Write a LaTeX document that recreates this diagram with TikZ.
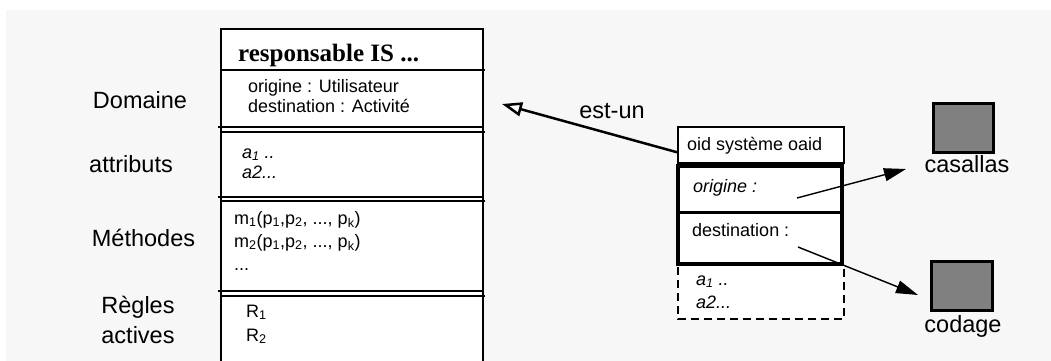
\documentclass[tikz,border=0pt]{standalone}
\usepackage{fontspec}
\setmainfont{Liberation Sans}
\newfontfamily\titlefont{Liberation Serif}
\usetikzlibrary{arrows.meta}
\definecolor{bggray}{RGB}{247,247,247}
\definecolor{boxgray}{RGB}{128,128,128}
\tikzset{
  side/.style={anchor=base, align=center, inner sep=0pt, font=\fontsize{23.5}{30}\selectfont},
  cell/.style={anchor=base west, align=left, inner sep=0pt, font=\fontsize{18}{20}\selectfont},
  thin/.style={line width=1.4pt},
  isa/.style={line width=2.5pt, -{Triangle[open, length=20pt, width=14pt, fill=white]}},
  ref/.style={line width=1.4pt, -{Triangle[length=22pt, width=13pt]}},
  obj/.style={draw, line width=3pt, fill=boxgray, inner sep=0pt}
}
\begin{document}
\begin{tikzpicture}[x=1pt, y=-1pt]
% page and backdrop
\useasboundingbox (0,0) rectangle (1051,361);
\fill[white] (0,0) rectangle (1051,361);
\fill[bggray] (6,10) rectangle (1051,361);

% left column labels (base = last line)
\node[side] (dom) at (140,108) {Domaine};
\node[side] (att) at (131,172) {attributs};
\node[side] (met) at (143.5,246) {Méthodes};
\node[side] (reg) at (138,343) {Règles\\actives};

% the class box
\fill[white] (221,29) rectangle (483,361);
\draw[thin] (221,361) -- (221,29) -- (483,29) -- (483,361);
\draw[thin] (221,70) -- (485,70);
\draw[thin] (218,127) -- (483,127);
\draw[thin] (221,132) -- (485,132);
\draw[thin] (218,197) -- (483,197);
\draw[thin] (221,201) -- (485,201);
\draw[thin] (218,291) -- (483,291);
\draw[thin] (221,296) -- (485,296);
\node[anchor=base west, inner sep=0pt, font=\titlefont\bfseries\fontsize{25}{30}\selectfont] (title) at (238,61) {responsable IS ...};
\node[cell] (domtxt) at (248,112) {origine : Utilisateur\\destination : Activité};
\node[cell] (atttxt) at (242,178) {\textit{a\textsubscript{1} ..}\\\textit{a2...}};
\node[cell, font=\fontsize{18}{23}\selectfont] (mettxt) at (234,270) {m\textsubscript{1}(p\textsubscript{1},p\textsubscript{2}, ..., p\textsubscript{k})\\m\textsubscript{2}(p\textsubscript{1},p\textsubscript{2}, ..., p\textsubscript{k})\\...};
\node[cell, font=\fontsize{18}{24}\selectfont] (regtxt) at (246,341) {R\textsubscript{1}\\R\textsubscript{2}};

% the instance
\fill[white] (678,127) rectangle (844,319);
\draw[thin] (678,127) rectangle (844,163);
\node[cell] (oid) at (687,150) {oid système oaid};
\draw[line width=4pt] (678,166) rectangle (842,264);
\draw[line width=3pt] (678,212) -- (842,212);
\node[cell] (orig) at (693,192) {\textit{origine :}};
\node[cell] (dest) at (692,236) {destination :};
\draw[thin, dash pattern=on 8pt off 5pt] (678,267) -- (678,319) -- (844,319) -- (844,267);
\node[cell, font=\fontsize{18}{23}\selectfont] (inst) at (696,308) {\textit{a\textsubscript{1} ..}\\\textit{a2...}};

% objects
\node[obj, minimum width=60pt, minimum height=49pt] (cas) at (963,127.5) {};
\node[side] (caslbl) at (967,172) {casallas};
\node[obj, minimum width=61pt, minimum height=49pt] (cod) at (961.5,285.5) {};
\node[side] (codlbl) at (963,332) {codage};

% links
\coordinate (isatip) at (502,104);
\coordinate (ofrom) at (797,198);
\coordinate (oto) at (906,169);
\coordinate (dfrom) at (798,247);
\coordinate (dto) at (918,295);
\draw[isa] ([yshift=-7pt]oid.west -| 677,0) -- (isatip);
\node[side] (estun) at (612,118) {est-un};
\draw[ref] (ofrom) -- (oto);
\draw[ref] (dfrom) -- (dto);
\end{tikzpicture}
\end{document}
